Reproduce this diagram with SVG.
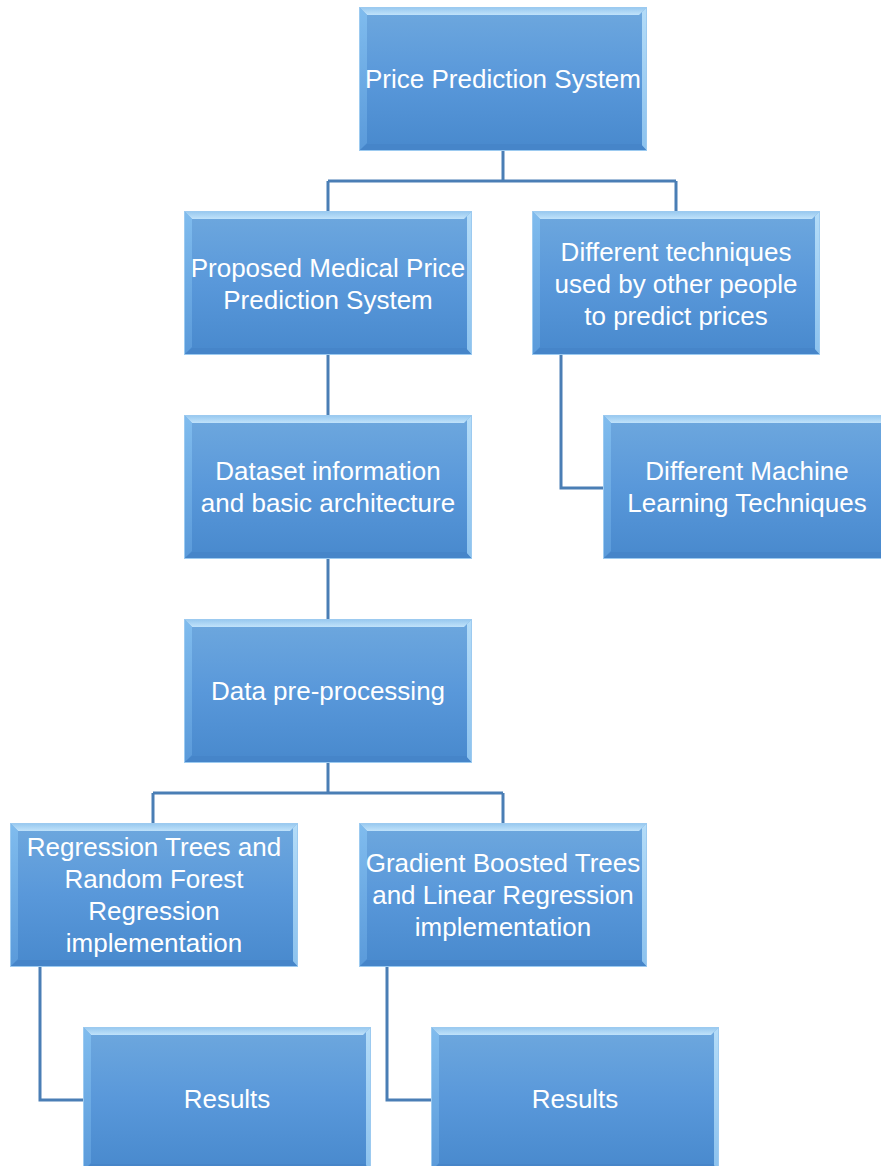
<svg xmlns="http://www.w3.org/2000/svg" xmlns:xlink="http://www.w3.org/1999/xlink" width="881" height="1166" viewBox="0 0 881 1166">
  <style>
    .conn { fill: none; stroke: #4a7eb5; stroke-width: 3; }
    .label { font-family: "Liberation Sans", Arial, sans-serif; font-size: 26px; fill: #ffffff; text-anchor: middle; }
  </style>
  <defs>
    <linearGradient id="face" x1="0" y1="0" x2="0" y2="1">
      <stop offset="0" stop-color="#6ea8de"/>
      <stop offset="0.5" stop-color="#5998da"/>
      <stop offset="1" stop-color="#4889cd"/>
    </linearGradient>
    <linearGradient id="topBevel" x1="0" y1="0" x2="0" y2="1">
      <stop offset="0" stop-color="#94c6ee"/>
      <stop offset="1" stop-color="#c0e2fa"/>
    </linearGradient>
    <linearGradient id="leftBevel" x1="0" y1="0" x2="0" y2="1">
      <stop offset="0" stop-color="#80bcee"/>
      <stop offset="1" stop-color="#5a9ada"/>
    </linearGradient>
    <linearGradient id="rightBevel" x1="0" y1="0" x2="0" y2="1">
      <stop offset="0" stop-color="#b4dcf8"/>
      <stop offset="1" stop-color="#8cc2ee"/>
    </linearGradient>
    <!-- bevelled box, 288 x 144 -->
    <symbol id="box" viewBox="0 0 288 144" width="288" height="144" overflow="visible">
      <rect x="0" y="0" width="288" height="144" fill="url(#face)"/>
      <polygon points="0,0 288,0 280,8 8,8" fill="url(#topBevel)"/>
      <polygon points="0,0 8,8 8,136 0,144" fill="url(#leftBevel)"/>
      <polygon points="288,0 288,144 283,139 283,5" fill="url(#rightBevel)"/>
      <polygon points="0,144 8,137 282,137 288,144" fill="#4685c9"/>
      <rect x="0.5" y="0.5" width="287" height="143" fill="none" stroke="#9ccaf0" stroke-width="1"/>
    </symbol>
  </defs>

  <rect width="881" height="1166" fill="#ffffff"/>

  <g id="connectors">
    <path class="conn" d="M503,151 V181 M328,181 H676 M328,181 V211 M676,181 V211"/>
    <path class="conn" d="M328,355 V415"/>
    <path class="conn" d="M561,355 V488 H603"/>
    <path class="conn" d="M328,559 V619"/>
    <path class="conn" d="M328,763 V793 M153,793 H503 M153,793 V823 M503,793 V823"/>
    <path class="conn" d="M40,967 V1100 H83"/>
    <path class="conn" d="M387,967 V1100 H431"/>
  </g>

  <g id="node-price-prediction">
    <use xlink:href="#box" x="359" y="7"/>
    <text class="label" x="503" y="88">Price Prediction System</text>
  </g>

  <g id="node-proposed-system">
    <use xlink:href="#box" x="184" y="211"/>
    <text class="label" x="328" y="277">Proposed Medical Price</text>
    <text class="label" x="328" y="309">Prediction System</text>
  </g>

  <g id="node-other-techniques">
    <use xlink:href="#box" x="532" y="211"/>
    <text class="label" x="676" y="261">Different techniques</text>
    <text class="label" x="676" y="293">used by other people</text>
    <text class="label" x="676" y="325">to predict prices</text>
  </g>

  <g id="node-ml-techniques">
    <use xlink:href="#box" x="603" y="415"/>
    <text class="label" x="747" y="480">Different Machine</text>
    <text class="label" x="747" y="512">Learning Techniques</text>
  </g>

  <g id="node-dataset">
    <use xlink:href="#box" x="184" y="415"/>
    <text class="label" x="328" y="480">Dataset information</text>
    <text class="label" x="328" y="512">and basic architecture</text>
  </g>

  <g id="node-preprocessing">
    <use xlink:href="#box" x="184" y="619"/>
    <text class="label" x="328" y="700">Data pre-processing</text>
  </g>

  <g id="node-regression-trees">
    <use xlink:href="#box" x="10" y="823"/>
    <text class="label" x="154" y="856">Regression Trees and</text>
    <text class="label" x="154" y="888">Random Forest</text>
    <text class="label" x="154" y="920">Regression</text>
    <text class="label" x="154" y="952">implementation</text>
  </g>

  <g id="node-gradient-boosted">
    <use xlink:href="#box" x="359" y="823"/>
    <text class="label" x="503" y="872">Gradient Boosted Trees</text>
    <text class="label" x="503" y="904">and Linear Regression</text>
    <text class="label" x="503" y="936">implementation</text>
  </g>

  <g id="node-results-1">
    <use xlink:href="#box" x="83" y="1027"/>
    <text class="label" x="227" y="1108">Results</text>
  </g>

  <g id="node-results-2">
    <use xlink:href="#box" x="431" y="1027"/>
    <text class="label" x="575" y="1108">Results</text>
  </g>
</svg>
